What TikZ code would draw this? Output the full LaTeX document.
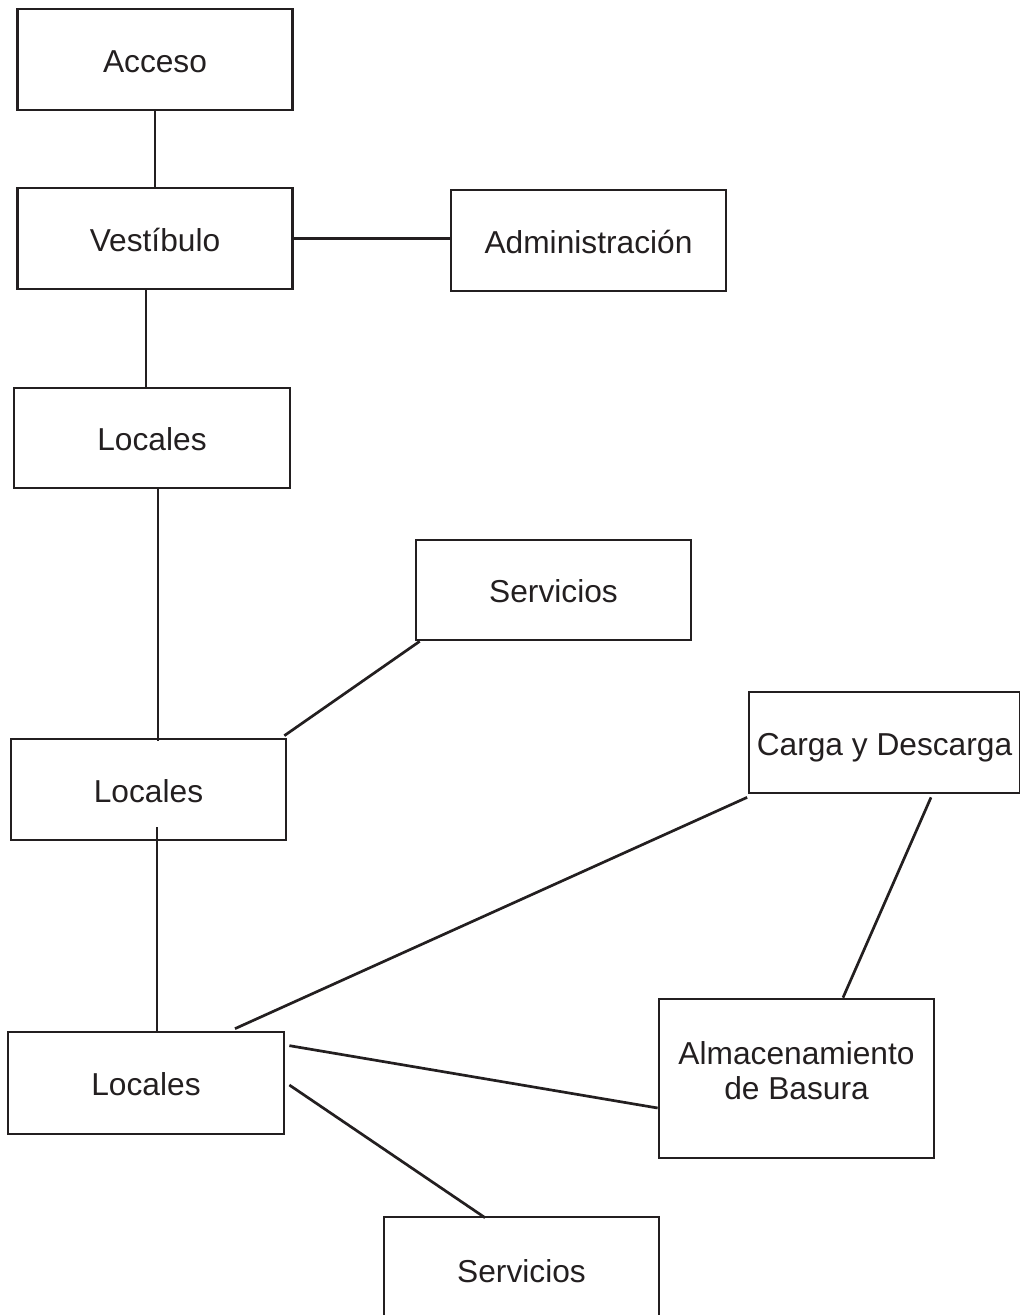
\documentclass[tikz,border=0pt]{standalone}
\usepackage{fontspec}
\setmainfont{Liberation Sans}
\definecolor{ink}{HTML}{231F20}
\begin{document}
\begin{tikzpicture}[x=1pt,y=-1pt,
  roomfont/.style={text=ink, font=\fontsize{31.7}{35}\selectfont},
  room/.style={draw=ink, line width=2.7pt, roomfont, minimum width=275pt,
    minimum height=101pt, inner sep=0pt, text height=25.7pt, text depth=0pt},
  link/.style={draw=ink, line width=2.7pt}]
\useasboundingbox (0,0) rectangle (1020,1315);

% rooms
\node[room] (acc)  at (155,59.5)    {Acceso};
\node[room] (ves)  at (155,238.5)   {Vestíbulo};
\node[room] (adm)  at (588.5,240.5) {Administración};
\node[room, minimum width=276pt, minimum height=100pt] (loc1) at (152,438) {Locales};
\node[room, minimum height=100pt] (ser1) at (553.5,590) {Servicios};
\node[room] (loc2) at (148.5,789.5) {Locales};
\node[room, minimum width=271pt] (car) at (884.5,742.5) {Carga y Descarga};
\node[room, minimum width=276pt, minimum height=102pt] (loc3) at (146,1083) {Locales};
\node[room, minimum height=159pt] (alm) at (796.5,1078.5) {};
\node[roomfont, align=center, inner sep=0pt] (almtext) at ([yshift=7.5pt]alm.center)
  {Almacenamiento\\de Basura};
\node[room, minimum height=105pt] (ser2) at (521.5,1269.5) {Servicios};

% connections
\draw[link] (acc.south) -- (ves.north);
\draw[link] (ves.east) -- (ves.east -| adm.west);
\draw[link] ([xshift=-9pt]ves.south) -- ([xshift=-9pt]ves.south |- loc1.north);
\draw[link] ([xshift=6pt]loc1.south) -- ([xshift=6pt,yshift=-3pt]loc1.south |- loc2.north);
\draw[link] ([xshift=5pt]ser1.south west) -- ([xshift=-3pt,yshift=2pt]loc2.north east);
\draw[link] ([xshift=8.5pt,yshift=14pt]loc2.south) -- ([xshift=8.5pt]loc2.south |- loc3.north);
\draw[link] ([xshift=-0.5pt,yshift=-3pt]car.south west) -- ([xshift=89pt,yshift=2pt]loc3.north);
\draw[link] ([xshift=46.5pt,yshift=-3pt]car.south) -- ([xshift=46.5pt]alm.north);
\draw[link] ([xshift=4pt,yshift=-15pt]loc3.north east) -- ([yshift=-29.5pt]alm.west);
\draw[link] ([xshift=4pt,yshift=-2pt]loc3.east) -- ([xshift=-36.5pt,yshift=-2pt]ser2.north);
\end{tikzpicture}
\end{document}
